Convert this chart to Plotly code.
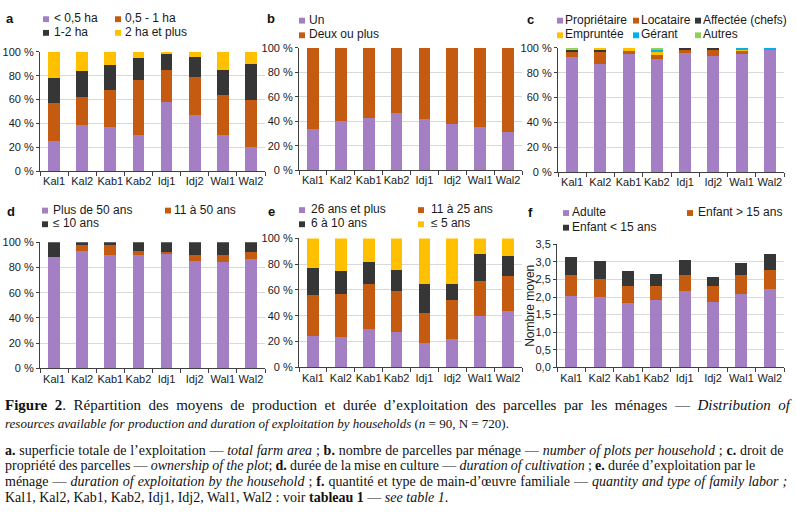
import plotly.graph_objects as go

W, H = 796, 512

categories = ["Kal1", "Kal2", "Kab1", "Kab2", "Idj1", "Idj2", "Wal1", "Wal2"]

# a. superficie totale
a_names = ["< 0,5 ha", "0,5 - 1 ha", "1-2 ha", "2 ha et plus"]
a_lt05 = [25, 39, 37, 30, 58, 47, 30, 20]
a_05_1 = [32, 23, 31, 46, 27, 32, 34, 40]
a_1_2 = [21, 22, 21, 19, 13, 17, 21, 30]
a_ge2 = [22, 16, 11, 5, 2, 4, 15, 10]

# b. nombre de parcelles
b_names = ["Un", "Deux ou plus"]
b_un = [34, 40, 43, 47, 42, 38, 35, 31]
b_deux = [66, 60, 57, 53, 58, 62, 65, 69]

# c. droit de propriété
c_names = ["Propriétaire", "Locataire", "Affectée (chefs)", "Empruntée", "Gérant", "Autres"]
c_prop = [92.5, 87, 95, 91.5, 96.5, 93.5, 95, 98]
c_loc = [5, 10, 2.5, 3, 1.5, 4.5, 3, 0]
c_aff = [1, 1, 0, 0, 2, 2, 0, 0]
c_emp = [1, 2, 2.5, 3, 0, 0, 1, 0]
c_ger = [0, 0, 0, 1.5, 0, 0, 1, 2]
c_aut = [0.5, 0, 0, 1, 0, 0, 0, 0]

# d. durée de mise en culture
d_names = ["Plus de 50 ans", "11 à 50 ans", "≤ 10 ans"]
d_p50 = [88.5, 93, 90, 90, 91, 85.5, 84.5, 86.5]
d_11_50 = [0, 4.5, 7.5, 3.5, 1, 4.5, 5.5, 5.5]
d_le10 = [11.5, 2.5, 2.5, 6.5, 8, 10, 10, 8]

# e. durée d'exploitation par le ménage
e_names = ["26 ans et plus", "11 à 25 ans", "6 à 10 ans", "≤ 5 ans"]
e_26 = [24.5, 23.5, 30, 27.5, 18.5, 22, 40, 43.5]
e_11_25 = [31.5, 33.5, 34.5, 31.5, 24, 30.5, 27, 27]
e_6_10 = [21, 18, 17, 16.5, 22, 12, 21, 15.5]
e_le5 = [23, 25, 18.5, 24.5, 35.5, 35.5, 12, 14]

# f. main-d'oeuvre familiale
f_names = ["Adulte", "Enfant > 15 ans", "Enfant < 15 ans"]
f_adulte = [2.02, 2.00, 1.84, 1.92, 2.16, 1.87, 2.10, 2.24]
f_gt15 = [0.62, 0.51, 0.47, 0.39, 0.46, 0.44, 0.54, 0.53]
f_lt15 = [0.50, 0.51, 0.42, 0.35, 0.44, 0.25, 0.32, 0.45]

pct_ticks = [0, 20, 40, 60, 80, 100]
pct_text = ["0 %", "20 %", "40 %", "60 %", "80 %", "100 %"]
f_ticks = [0, 0.5, 1, 1.5, 2, 2.5, 3, 3.5]
f_text = ["0,0", "0,5", "1,0", "1,5", "2,0", "2,5", "3,0", "3,5"]

PURPLE = "#a47fc3"
ORANGE = "#c55a11"
BLACK = "#363636"
YELLOW = "#ffc000"
CYAN = "#00b0f0"
GREEN = "#92d050"

FONT = "Liberation Sans, Arial, sans-serif"
SERIF = "Liberation Serif, Times New Roman, serif"


def X(px):
    return px / W


def Y(py):
    return 1 - py / H


panels = [
    ("", 40, 265, 47, 169, [a_lt05, a_05_1, a_1_2, a_ge2], [PURPLE, ORANGE, BLACK, YELLOW], a_names, pct_ticks, pct_text, [0, 100]),
    ("2", 299, 522, 43, 168, [b_un, b_deux], [PURPLE, ORANGE], b_names, pct_ticks, pct_text, [0, 100]),
    ("3", 558, 784, 43, 170, [c_prop, c_loc, c_aff, c_emp, c_ger, c_aut], [PURPLE, ORANGE, BLACK, YELLOW, CYAN, GREEN], c_names, pct_ticks, pct_text, [0, 100]),
    ("4", 40, 265, 242, 371, [d_p50, d_11_50, d_le10], [PURPLE, ORANGE, BLACK], d_names, pct_ticks, pct_text, [0, 100]),
    ("5", 299, 522, 238, 370, [e_26, e_11_25, e_6_10, e_le5], [PURPLE, ORANGE, BLACK, YELLOW], e_names, pct_ticks, pct_text, [0, 100]),
    ("6", 557, 784, 244, 370, [f_adulte, f_gt15, f_lt15], [PURPLE, ORANGE, BLACK], f_names, f_ticks, f_text, [0, 3.5]),
]

fig = go.Figure()
layout = {}
for key, x0, x1, yt, yb, series, colors, names, tv, tt, yr in panels:
    for vals, col, nm in zip(series, colors, names):
        fig.add_trace(go.Bar(
            x=categories, y=vals, name=nm, marker=dict(color=col, line=dict(width=0)),
            xaxis="x" + key, yaxis="y" + key, showlegend=False,
        ))
    layout["xaxis" + key] = dict(
        domain=[X(x0), X(x1)], anchor="y" + key, type="category", range=[-0.5, 7.5],
        showline=True, linecolor="#404040", linewidth=1, ticks="outside", tickson="boundaries",
        ticklen=4, tickcolor="#404040", showgrid=False, zeroline=False, tickangle=0,
        tickfont=dict(family=FONT, size=11, color="#1a1a1a"),
    )
    layout["yaxis" + key] = dict(
        domain=[Y(yb), Y(yt)], anchor="x" + key, range=yr, tickvals=tv, ticktext=tt,
        showline=True, linecolor="#404040", linewidth=1, ticks="outside", ticklen=3,
        tickcolor="#404040", showgrid=True, gridcolor="#d9d9d9", gridwidth=1, zeroline=False,
        tickfont=dict(family=FONT, size=11, color="#1a1a1a"),
    )

fig.update_layout(**layout)

annotations = []
shapes = []

# panel letters
for letter, lx, ly in [("a", 5, 13), ("b", 266, 13), ("c", 526, 14), ("d", 6, 210), ("e", 267, 210), ("f", 527, 211)]:
    annotations.append(dict(x=X(lx), y=Y(ly), xref="paper", yref="paper", text="<b>" + letter + "</b>",
                            showarrow=False, xanchor="left", yanchor="middle", borderpad=0,
                            font=dict(family=FONT, size=13, color="#111")))

# legends: (square_x, text_x, y, color, label)
legend_items = [
    (43, 53, 12.5, PURPLE, a_names[0]), (115, 124, 12.5, ORANGE, a_names[1]),
    (43, 53, 26.5, BLACK, a_names[2]), (115, 124, 26.5, YELLOW, a_names[3]),
    (299, 308, 14, PURPLE, b_names[0]), (299, 308, 29, ORANGE, b_names[1]),
    (557, 564, 14, PURPLE, c_names[0]), (633, 640, 14, ORANGE, c_names[1]), (695, 702, 14, BLACK, c_names[2]),
    (557, 564, 29, YELLOW, c_names[3]), (633, 640, 29, CYAN, c_names[4]), (695, 702, 29, GREEN, c_names[5]),
    (42, 52, 208.5, PURPLE, d_names[0]), (165, 173, 208.5, ORANGE, d_names[1]), (42, 52, 222.5, BLACK, d_names[2]),
    (299, 310, 208, PURPLE, e_names[0]), (418, 430, 208, ORANGE, e_names[1]),
    (299, 310, 222.5, BLACK, e_names[2]), (418, 430, 222.5, YELLOW, e_names[3]),
    (563, 571, 211, PURPLE, f_names[0]), (687, 697, 211, ORANGE, f_names[1]), (563, 571, 226, BLACK, f_names[2]),
]
S = 6
for sx, tx, yy, col, lab in legend_items:
    shapes.append(dict(type="rect", xref="paper", yref="paper", x0=X(sx), x1=X(sx + S),
                       y0=Y(yy + S / 2 + 1), y1=Y(yy - S / 2 + 1), fillcolor=col, line=dict(width=0)))
    annotations.append(dict(x=X(tx), y=Y(yy), xref="paper", yref="paper", text=lab, showarrow=False,
                            xanchor="left", yanchor="middle", borderpad=0,
                            font=dict(family=FONT, size=12, color="#1a1a1a")))

# y title of panel f
annotations.append(dict(x=X(530), y=Y(307), xref="paper", yref="paper", text="Nombre moyen", textangle=-90,
                        showarrow=False, xanchor="center", yanchor="middle", borderpad=0,
                        font=dict(family=FONT, size=12, color="#1a1a1a")))

# caption lines: (y, font size, word spacing px, text)
caption = [
    (409, 15, 3.8, "<b>Figure 2</b>. Répartition des moyens de production et durée d’exploitation des parcelles par les ménages — <i>Distribution of</i>"),
    (428, 13, 0, "<i>resources available for production and duration of exploitation by households</i> (<i>n</i> = 90, N = 720)."),
    (455, 14, 0.3, "<b>a.</b> superficie totale de l’exploitation — <i>total farm area</i> ; <b>b.</b> nombre de parcelles par ménage — <i>number of plots per household</i> ; <b>c.</b> droit de"),
    (471, 14, -0.3, "propriété des parcelles — <i>ownership of the plot</i>; <b>d.</b> durée de la mise en culture — <i>duration of cultivation</i> ; <b>e.</b> durée d’exploitation par le"),
    (487, 14, 0.5, "ménage — <i>duration of exploitation by the household</i> ; <b>f.</b> quantité et type de main-d’œuvre familiale — <i>quantity and type of family labor ;</i>"),
    (503, 14, 0, "Kal1, Kal2, Kab1, Kab2, Idj1, Idj2, Wal1, Wal2 : voir <b>tableau 1</b> — <i>see table 1</i>."),
]
for yy, sz, ws, t in caption:
    txt = '<span style="word-spacing:%spx">%s</span>' % (ws, t) if ws else t
    annotations.append(dict(x=X(4), y=Y(yy), xref="paper", yref="paper", text=txt, showarrow=False,
                            xanchor="left", yanchor="middle", borderpad=0,
                            font=dict(family=SERIF, size=sz, color="#111")))

fig.update_layout(
    width=W, height=H, margin=dict(l=0, r=0, t=0, b=0),
    paper_bgcolor="white", plot_bgcolor="white",
    barmode="stack", bargap=0.58, showlegend=False,
    annotations=annotations, shapes=shapes,
    font=dict(family=FONT, size=11),
)

fig.write_html("out.html")
